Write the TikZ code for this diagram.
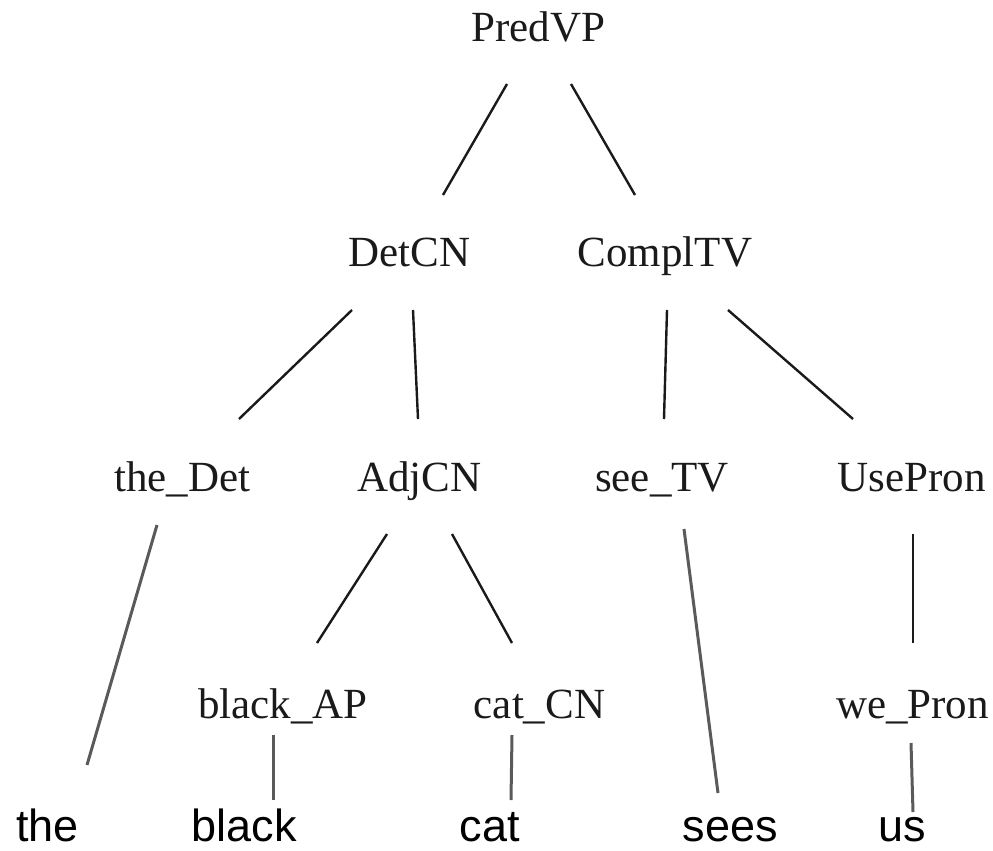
\documentclass[tikz,border=0pt]{standalone}
\usepackage{fontspec}
\setmainfont{Liberation Serif}
\newfontfamily\leaffont{Liberation Sans}
\usetikzlibrary{calc}
\definecolor{treeink}{HTML}{1A1A1A}
\definecolor{leafline}{HTML}{5A5A5A}
\begin{document}
\begin{tikzpicture}[x=1pt,y=-1pt,
  cat/.style={anchor=base,inner sep=0pt,text=treeink,font=\fontsize{43}{50}\selectfont},
  word/.style={anchor=base,inner sep=0pt,text=black,font=\leaffont\fontsize{45}{52}\selectfont},
  branch/.style={draw=treeink,line width=2.4pt},
  lexlink/.style={draw=leafline,line width=3pt}]
\useasboundingbox (0,0) rectangle (993,851);

% abstract syntax tree
\node[cat] (pred)    at (538.5,42)  {PredVP};
\node[cat] (detcn)   at (409.5,266) {DetCN};
\node[cat] (compl)   at (665,266)   {ComplTV};
\node[cat] (tdet)    at (182.5,491) {the\_Det};
\node[cat] (adjcn)   at (419.5,491) {AdjCN};
\node[cat] (seetv)   at (662,491)   {see\_TV};
\node[cat] (usepron) at (911.5,491) {UsePron};
\node[cat] (blackap) at (283,718)   {black\_AP};
\node[cat] (catcn)   at (539.5,718) {cat\_CN};
\node[cat] (wepron)  at (912.5,718) {we\_Pron};

% linearized words
\node[word] (wthe)   at (47.5,841)  {the};
\node[word] (wblack) at (244,841)   {black};
\node[word] (wcat)   at (490,841)   {cat};
\node[word] (wsees)  at (730.5,841) {sees};
\node[word] (wus)    at (902,841)   {us};

% tree branches
\draw[branch] ($(pred.base)+(-31.5,42)$) -- ($(detcn.base)+(33.5,-71)$);
\draw[branch] ($(pred.base)+(32.5,42)$) -- ($(compl.base)+(-30,-71)$);
\draw[branch] ($(detcn.base)+(-57.5,44)$) -- ($(tdet.base)+(56.5,-72)$);
\draw[branch] ($(detcn.base)+(3.5,44)$) -- ($(adjcn.base)+(-1.5,-72)$);
\draw[branch] ($(compl.base)+(2,44)$) -- ($(seetv.base)+(2,-72)$);
\draw[branch] ($(compl.base)+(63,44)$) -- ($(usepron.base)+(-58.5,-72)$);
\draw[branch] ($(adjcn.base)+(-32.5,43)$) -- ($(blackap.base)+(34,-75)$);
\draw[branch] ($(adjcn.base)+(32.5,43)$) -- ($(catcn.base)+(-27.5,-75)$);
\draw[branch] ($(usepron.base)+(1.5,43)$) -- ($(wepron.base)+(0.5,-75)$);

% links from lexical functions to words
\draw[lexlink] ($(tdet.base)+(-25.5,34)$) -- ($(wthe.base)+(39.5,-76)$);
\draw[lexlink] ($(seetv.base)+(22,38)$) -- ($(wsees.base)+(-12.5,-48)$);
\draw[lexlink] ($(blackap.base)+(-10,17)$) -- ($(wblack.base)+(29,-41)$);
\draw[lexlink] ($(catcn.base)+(-27.5,17)$) -- ($(wcat.base)+(21,-41)$);
\draw[lexlink] ($(wepron.base)+(-1.5,25)$) -- ($(wus.base)+(11,-29)$);
\end{tikzpicture}
\end{document}
